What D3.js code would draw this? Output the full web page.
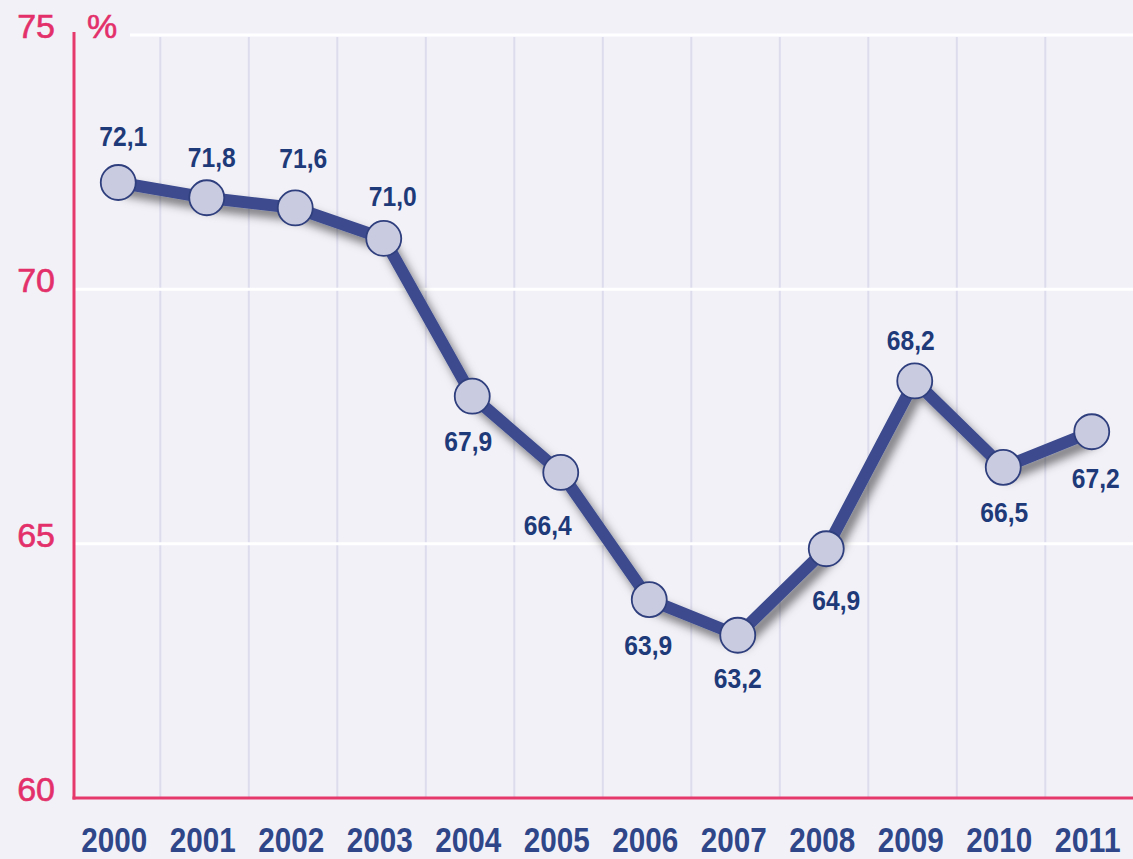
<!DOCTYPE html>
<html>
<head>
<meta charset="utf-8">
<script src="https://cdn.jsdelivr.net/npm/d3@7"></script>
<style>
    html, body { margin: 0; padding: 0; background: #f2f1f8; }
    svg { display: block; }
</style>
</head>
<body>
<div id="chart"></div>
<script>
var years = ["2000", "2001", "2002", "2003", "2004", "2005", "2006", "2007", "2008", "2009", "2010", "2011"];
var values = [72.1, 71.8, 71.6, 71.0, 67.9, 66.4, 63.9, 63.2, 64.9, 68.2, 66.5, 67.2];
var yTicks = [60, 65, 70, 75];
var unitLabel = "%";

// where each value label sits relative to its point (dx, baseline dy)
var labelOffsets = [[5, -37], [5, -31], [8, -40], [9, -32], [-4, 55], [-13, 63],
                    [-1, 55], [0, 53], [10, 61], [-4, -31], [1, 55], [4, 56]];

var w = 1133;
var h = 859;

var x = d3.scaleBand().domain(years).range([74, 1136]);
var y = d3.scaleLinear().domain([60, 75]).range([798, 35]);

var svg = d3.select("#chart")
    .append("svg")
    .attr("width", w)
    .attr("height", h);

svg.append("rect")
    .attr("width", w)
    .attr("height", h)
    .attr("fill", "#f2f1f8");

var defs = svg.append("defs");
var shadow = defs.append("filter")
    .attr("id", "shadow")
    .attr("x", "-10%").attr("y", "-10%")
    .attr("width", "130%").attr("height", "130%");
shadow.append("feDropShadow")
    .attr("dx", 5).attr("dy", 7)
    .attr("stdDeviation", 5)
    .attr("flood-color", "#000")
    .attr("flood-opacity", 0.5);

// vertical grid lines between the years
svg.selectAll(".vgrid")
    .data(years.slice(0, -1))
    .enter()
    .append("line")
    .attr("class", "vgrid")
    .attr("x1", function(d) { return x(d) + x.bandwidth() * 0.975; })
    .attr("x2", function(d) { return x(d) + x.bandwidth() * 0.975; })
    .attr("y1", y(75) + 2)
    .attr("y2", y(60))
    .attr("stroke", "#dcdced")
    .attr("stroke-width", 2);

// white horizontal grid lines
svg.selectAll(".hgrid")
    .data(yTicks.slice(1))
    .enter()
    .append("line")
    .attr("class", "hgrid")
    .attr("x1", function(d) { return d === 75 ? 130 : 75; })
    .attr("x2", w)
    .attr("y1", function(d) { return y(d); })
    .attr("y2", function(d) { return y(d); })
    .attr("stroke", "#ffffff")
    .attr("stroke-width", 3);

// red axes
svg.append("line")
    .attr("x1", 74).attr("x2", 74)
    .attr("y1", 32).attr("y2", y(60) + 1.5)
    .attr("stroke", "#e5386b")
    .attr("stroke-width", 3);
svg.append("line")
    .attr("x1", 72.5).attr("x2", w)
    .attr("y1", y(60)).attr("y2", y(60))
    .attr("stroke", "#e5386b")
    .attr("stroke-width", 3);

// y tick labels
svg.selectAll(".ytick")
    .data(yTicks)
    .enter()
    .append("text")
    .attr("class", "ytick")
    .text(function(d) { return d; })
    .attr("x", 55)
    .attr("y", function(d) { return y(d) + 3; })
    .attr("text-anchor", "end")
    .attr("font-family", "'Liberation Sans', Arial, sans-serif")
    .attr("font-size", "34px")
    .attr("stroke", "#e3306a")
    .attr("stroke-width", 0.6)
    .attr("fill", "#e3306a");

svg.append("text")
    .text(unitLabel)
    .attr("x", 87)
    .attr("y", y(75) + 3)
    .attr("font-family", "'Liberation Sans', Arial, sans-serif")
    .attr("font-size", "34px")
    .attr("stroke", "#e3306a")
    .attr("stroke-width", 0.6)
    .attr("fill", "#e3306a");

// year labels, squeezed to the condensed width of the original
svg.selectAll(".year")
    .data(years)
    .enter()
    .append("text")
    .attr("class", "year")
    .text(function(d) { return d; })
    .attr("x", function(d) { return x(d) + x.bandwidth() / 2 - 4; })
    .attr("y", 852)
    .attr("text-anchor", "middle")
    .attr("font-family", "'Liberation Sans', Arial, sans-serif")
    .attr("font-weight", "bold")
    .attr("font-size", "35px")
    .attr("textLength", 66)
    .attr("lengthAdjust", "spacingAndGlyphs")
    .attr("fill", "#2f4788");

var pts = years.map(function(d, i) { return [x(d) + x.bandwidth() / 2, y(values[i])]; });

// line with shadow
svg.append("path")
    .datum(pts)
    .attr("d", d3.line())
    .attr("fill", "none")
    .attr("stroke", "#3c4b8e")
    .attr("stroke-width", 12)
    .attr("stroke-linejoin", "round")
    .attr("filter", "url(#shadow)");

svg.selectAll("circle")
    .data(pts)
    .enter()
    .append("circle")
    .attr("cx", function(d) { return d[0]; })
    .attr("cy", function(d) { return d[1]; })
    .attr("r", 17.5)
    .attr("fill", "#c9cbe1")
    .attr("stroke", "#2f3f7e")
    .attr("stroke-width", 1.8);

// value labels
svg.selectAll(".val")
    .data(values)
    .enter()
    .append("text")
    .attr("class", "val")
    .text(function(d) { return d.toFixed(1).replace(".", ","); })
    .attr("x", function(d, i) { return pts[i][0] + labelOffsets[i][0]; })
    .attr("y", function(d, i) { return pts[i][1] + labelOffsets[i][1]; })
    .attr("text-anchor", "middle")
    .attr("font-family", "'Liberation Sans', Arial, sans-serif")
    .attr("font-weight", "bold")
    .attr("font-size", "28px")
    .attr("fill", "#1e3a78")
    .each(function() {
        var len = this.getComputedTextLength();
        d3.select(this)
            .attr("textLength", len * 0.88)
            .attr("lengthAdjust", "spacingAndGlyphs");
    });
</script>
</body>
</html>
